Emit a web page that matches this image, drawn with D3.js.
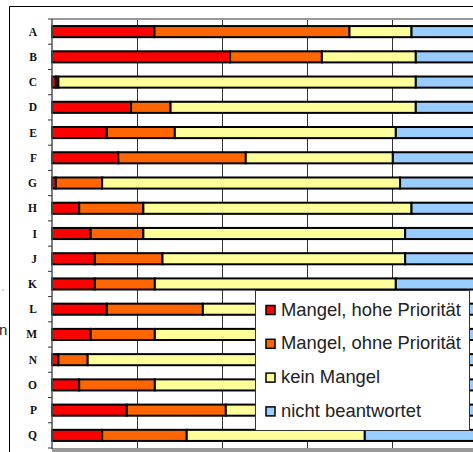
<!DOCTYPE html>
<html>
<head>
<meta charset="utf-8">
<script src="https://cdn.jsdelivr.net/npm/d3@7"></script>
<style>
  body { margin: 0; background: #fff; }
  svg { display: block; }
</style>
</head>
<body>
<div id="chart"></div>
<script>
// Data (percent of answers per item)
var categories = ['A','B','C','D','E','F','G','H','I','J','K','L','M','N','O','P','Q']
var seriesNames = ['Mangel, hohe Priorität', 'Mangel, ohne Priorität', 'kein Mangel', 'nicht beantwortet']
var hohe   = [24.1, 41.9, 0.9, 18.6, 12.9, 15.6, 0.9, 6.4, 9.1, 10.1, 10.1, 12.9, 9.1, 1.5, 6.4, 17.6, 11.8]
var ohne   = [45.9, 21.6, 0.6,  9.3, 16.0, 30.0, 10.9, 15.1, 12.4, 15.9, 14.1, 22.6, 15.1, 6.9, 17.8, 23.3, 19.9]
var kein   = [14.6, 22.1, 84.1, 57.7, 52.0, 34.6, 70.1, 63.1, 61.6, 57.1, 56.7, 46.4, 58.9, 75.8, 57.7, 39.8, 41.9]
var nicht  = [15.4, 14.4, 14.4, 14.4, 19.1, 19.8, 18.1, 15.4, 16.9, 16.9, 19.1, 18.1, 16.9, 15.8, 18.1, 19.3, 26.4]
var gridTicks = [20, 40, 60, 80, 100]

// Settings
var settings = {}
settings.width = 473
settings.height = 452
settings.colors = ['#ff0000', '#ff6600', '#ffff99', '#99ccff']
settings.bar_stroke = 2

var svg = d3.select('#chart').append('svg')
  .attr('width', settings.width)
  .attr('height', settings.height)

// Outer frame of the (cropped) chart
svg.append('path')
  .attr('d', 'M9.5,452 V6.5 H473')
  .attr('fill', 'none')
  .attr('stroke', '#000')
  .attr('stroke-width', 1)

// Cut-off axis title remnants at the very left
svg.append('text')
  .attr('x', -1).attr('y', 335)
  .attr('font-family', 'Liberation Sans, Arial, sans-serif')
  .attr('font-size', 15)
  .attr('fill', '#222')
  .text('n')
svg.append('circle').attr('cx', 3).attr('cy', 290).attr('r', 0.7).attr('fill', '#888')

// Scales
var x = d3.scaleLinear().domain([0, 100]).range([52, 477])
var y = d3.scaleBand().domain(categories).range([19, 448]).paddingInner(0.56).paddingOuter(0.28)
var band = d3.scaleBand().domain(categories).range([19, 448])

// Vertical gridlines
svg.append('g')
  .selectAll('line')
  .data(gridTicks)
  .join('line')
  .attr('x1', function(d){ return Math.round(x(d)) + 0.5 })
  .attr('x2', function(d){ return Math.round(x(d)) + 0.5 })
  .attr('y1', 19).attr('y2', 448)
  .attr('stroke', '#333')
  .attr('stroke-width', 1)

// Plot top border and bottom axis
svg.append('line')
  .attr('x1', 52).attr('x2', 473).attr('y1', 19).attr('y2', 19)
  .attr('stroke', '#999').attr('stroke-width', 2)
svg.append('rect')
  .attr('x', 52).attr('y', 448).attr('width', 421).attr('height', 4)
  .attr('fill', '#999')

// Stacked bars
var rows = categories.map(function(c, i){
  return { cat: c, hohe: hohe[i], ohne: ohne[i], kein: kein[i], nicht: nicht[i] }
})
var stack = d3.stack().keys(['hohe', 'ohne', 'kein', 'nicht'])
var layers = stack(rows)

svg.append('g')
  .selectAll('g')
  .data(layers)
  .join('g')
  .attr('fill', function(d, i){ return settings.colors[i] })
  .selectAll('rect')
  .data(function(d){ return d })
  .join('rect')
  .attr('x', function(d){ return x(d[0]) })
  .attr('width', function(d){ return x(d[1]) - x(d[0]) })
  .attr('y', function(d){ return y(d.data.cat) })
  .attr('height', y.bandwidth())
  .attr('stroke', '#000')
  .attr('stroke-width', settings.bar_stroke)

// Y axis (line, ticks between categories, labels)
svg.append('line')
  .attr('x1', 52).attr('x2', 52).attr('y1', 19).attr('y2', 449)
  .attr('stroke', '#555').attr('stroke-width', 1.5)

var tickYs = categories.map(function(c){ return band(c) }).concat([448])
svg.append('g')
  .selectAll('line')
  .data(tickYs)
  .join('line')
  .attr('x1', 48).attr('x2', 52)
  .attr('y1', function(d){ return d }).attr('y2', function(d){ return d })
  .attr('stroke', '#333').attr('stroke-width', 1)

svg.append('g')
  .selectAll('text')
  .data(categories)
  .join('text')
  .attr('x', 37)
  .attr('y', function(d){ return band(d) + band.bandwidth() / 2 + 4 })
  .attr('text-anchor', 'end')
  .attr('font-family', 'Liberation Serif, Times New Roman, serif')
  .attr('font-weight', 'bold')
  .attr('font-size', 11.5)
  .attr('fill', '#111')
  .text(function(d){ return d })

// Legend
var legend = svg.append('g')
legend.append('rect')
  .attr('x', 255.5).attr('y', 290.5).attr('width', 214).attr('height', 140)
  .attr('fill', '#fff').attr('stroke', '#333').attr('stroke-width', 1)

var item = legend.selectAll('g.item')
  .data(seriesNames)
  .join('g')
  .attr('class', 'item')
  .attr('transform', function(d, i){ return 'translate(0,' + (315.5 + i * 33.8) + ')' })

item.append('rect')
  .attr('x', 266).attr('y', -10).attr('width', 9).attr('height', 9)
  .attr('fill', function(d, i){ return settings.colors[i] })
  .attr('stroke', '#000').attr('stroke-width', 1.5)

item.append('text')
  .attr('x', 281).attr('y', 0)
  .attr('font-family', 'Liberation Sans, Arial, sans-serif')
  .attr('font-size', 18.4)
  .attr('fill', '#222')
  .text(function(d){ return d })
</script>
</body>
</html>
